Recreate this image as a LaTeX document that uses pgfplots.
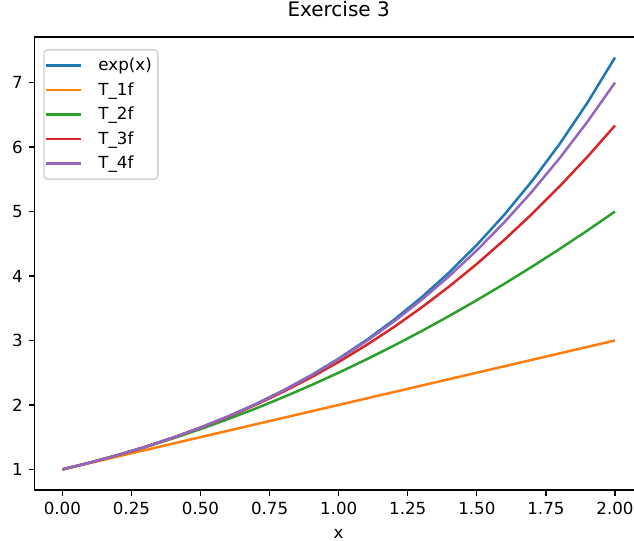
\documentclass[border=0pt]{standalone}
\usepackage{fontspec}
\setmainfont{DejaVu Sans}
\usepackage{pgfplots}
\pgfplotsset{compat=1.18}
\usepackage{pgfplotstable}

\definecolor{c0}{HTML}{1F77B4}
\definecolor{c1}{HTML}{FF7F0E}
\definecolor{c2}{HTML}{2CA02C}
\definecolor{c3}{HTML}{D62728}
\definecolor{c4}{HTML}{9467BD}

% x, exp(x) and its Taylor polynomials about 0
\pgfplotstableread{
x    e       t1   t2     t3      t4
0.0  1.00000 1.0  1.000  1.00000 1.00000
0.1  1.10517 1.1  1.105  1.10517 1.10517
0.2  1.22140 1.2  1.220  1.22133 1.22140
0.3  1.34986 1.3  1.345  1.34950 1.34984
0.4  1.49182 1.4  1.480  1.49067 1.49173
0.5  1.64872 1.5  1.625  1.64583 1.64844
0.6  1.82212 1.6  1.780  1.81600 1.82140
0.7  2.01375 1.7  1.945  2.00217 2.01217
0.8  2.22554 1.8  2.120  2.20533 2.22240
0.9  2.45960 1.9  2.305  2.42650 2.45384
1.0  2.71828 2.0  2.500  2.66667 2.70833
1.1  3.00417 2.1  2.705  2.92683 2.98784
1.2  3.32012 2.2  2.920  3.20800 3.29440
1.3  3.66930 2.3  3.145  3.51117 3.63017
1.4  4.05520 2.4  3.380  3.83733 3.99740
1.5  4.48169 2.5  3.625  4.18750 4.39844
1.6  4.95303 2.6  3.880  4.56267 4.83573
1.7  5.47395 2.7  4.145  4.96383 5.31184
1.8  6.04965 2.8  4.420  5.39200 5.82940
1.9  6.68589 2.9  4.705  5.84817 6.39117
2.0  7.38906 3.0  5.000  6.33333 7.00000
}\taylor

\begin{document}
\begin{tikzpicture}
\begin{axis}[
  scale only axis, width=437.7pt, height=326.2pt,
  xmin=-0.1, xmax=2.1, ymin=0.6806, ymax=7.7085,
  xtick={0,0.25,...,2.0}, ytick={1,...,7},
  tick pos=left, tick align=outside,
  major tick length=4.2pt,
  every tick/.style={black, line width=0.96pt},
  axis line style={line width=0.96pt},
  font=\fontsize{12}{14}\selectfont,
  tick label style={inner sep=4.2pt},
  /pgf/number format/assume math mode=true,
  xticklabel style={/pgf/number format/.cd, fixed, fixed zerofill, precision=2},
  yticklabel style={/pgf/number format/.cd, fixed},
  xlabel={x},
  xlabel style={at={(axis description cs:0.5,0)}, anchor=base, yshift=-34.6pt},
  title={Exercise 3},
  title style={font=\fontsize{14.4}{17}\selectfont, at={(axis description cs:0.5,1)}, anchor=base, yshift=8.5pt},
  legend style={at={(0,1)}, anchor=north west, xshift=6.2pt, yshift=-8.8pt,
    draw=black!18, line width=1pt, rounded corners=2.4pt, fill=white, fill opacity=0.8, text opacity=1,
    font=\fontsize{12}{14}\selectfont, inner xsep=0.5pt, inner ysep=3.5pt,
    nodes={inner xsep=3.9pt, inner ysep=2.5pt}, row sep=2pt},
  legend cell align=left,
  /tikz/every odd column/.append style={column sep=8pt},
  legend image code/.code={\draw[#1] (0pt,0pt) -- (25pt,0pt);},
  every axis plot/.append style={line width=1.8pt},
]
\addplot[c0] table[x=x, y=e] {\taylor};
\addlegendentry{exp(x)}
\addplot[c1] table[x=x, y=t1] {\taylor};
\addlegendentry{T\_1f}
\addplot[c2] table[x=x, y=t2] {\taylor};
\addlegendentry{T\_2f}
\addplot[c3] table[x=x, y=t3] {\taylor};
\addlegendentry{T\_3f}
\addplot[c4] table[x=x, y=t4] {\taylor};
\addlegendentry{T\_4f}
\end{axis}
\pgfresetboundingbox
\useasboundingbox (-25pt,-36.7pt) rectangle (431.5pt,352.8pt);
\end{tikzpicture}
\end{document}
